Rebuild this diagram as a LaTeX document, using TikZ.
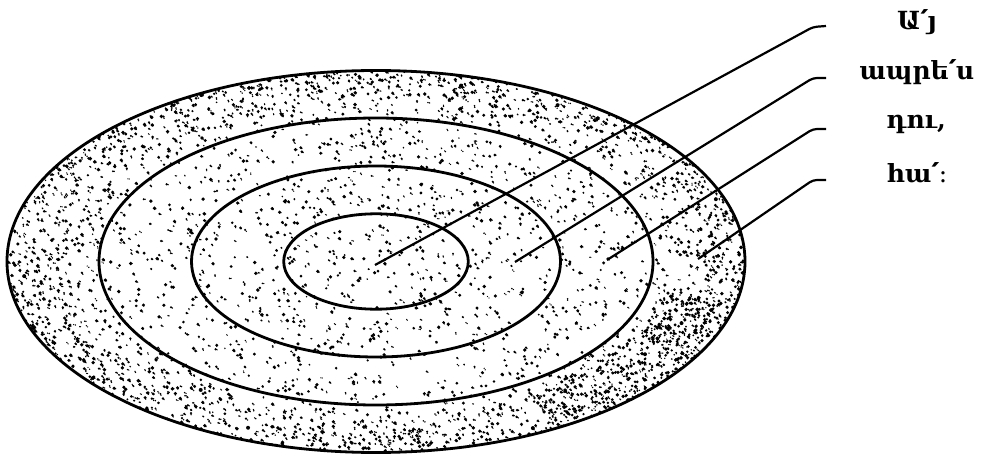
\documentclass[tikz,border=0pt]{standalone}
\usepackage{fontspec}
\newfontfamily\armfont{DejaVu Serif}
\begin{document}
\begin{tikzpicture}[x=1pt,y=-1pt,
  ring/.style={line width=2.8pt},
  lead/.style={line width=2.2pt, rounded corners=4pt},
  lab/.style={font=\armfont\bfseries\fontsize{25}{28}\selectfont, inner sep=0pt, anchor=center}]
\useasboundingbox (0,0) rectangle (990,457);
\fill[white] (0,0) rectangle (990,457);
\coordinate (c) at (376,261.5);
% speckle texture
\pgfmathsetseed{4711}
\begin{scope}
\clip (c) ellipse [x radius=369pt, y radius=191pt];
\foreach \i in {1,...,2200}{
  \pgfmathsetmacro\rr{sqrt(rnd)}
  \pgfmathsetmacro\tt{360*rnd}
  \pgfmathsetmacro\ss{0.6+1.3*rnd}
  \pgfmathsetmacro\px{376+369*\rr*cos(\tt)}
  \pgfmathsetmacro\py{261.5+191*\rr*sin(\tt)}
  \fill[black] (\px,\py) circle (\ss pt) +(1.5*rnd,1.5*rnd) circle (0.7pt);
}
\foreach \i in {1,...,1300}{
  \pgfmathsetmacro\rr{0.75+0.25*sqrt(rnd)}
  \pgfmathsetmacro\tt{360*rnd}
  \pgfmathsetmacro\ss{0.6+1.4*rnd}
  \pgfmathsetmacro\px{376+369*\rr*cos(\tt)}
  \pgfmathsetmacro\py{261.5+191*\rr*sin(\tt)}
  \fill[black] (\px,\py) circle (\ss pt) +(1.8*rnd,1.8*rnd) circle (0.8pt);
}
% denser patch lower right of outer ring
\foreach \i in {1,...,350}{
  \pgfmathsetmacro\rr{0.8+0.2*rnd}
  \pgfmathsetmacro\tt{10+50*rnd}
  \pgfmathsetmacro\ss{0.7+1.3*rnd}
  \pgfmathsetmacro\px{376+369*\rr*cos(\tt)}
  \pgfmathsetmacro\py{261.5+191*\rr*sin(\tt)}
  \fill[black] (\px,\py) circle (\ss pt);
}
\end{scope}
% rings
\draw[ring] (c) ellipse [x radius=92.3pt, y radius=47.7pt];
\draw[ring] (c) ellipse [x radius=184.5pt, y radius=95.5pt];
\draw[ring] (c) ellipse [x radius=277pt, y radius=143.5pt];
\draw[ring] (c) ellipse [x radius=369pt, y radius=191pt];
% labels
\node[lab] (l1) at (917,22) {Ա՛յ};
\node[lab] (l2) at (917,72) {ապրե՛ս};
\node[lab] (l3) at (916,124) {դու,};
\node[lab] (l4) at (917,173) {հա՛։};
% leader points
\coordinate (e1) at (375,265);
\coordinate (e2) at (515,262);
\coordinate (e3) at (607,260);
\coordinate (e4) at (698,259);
\coordinate (k1) at (813,27);
\coordinate (k2) at (813,78);
\coordinate (k3) at (813,129);
\coordinate (k4) at (813,180);
\coordinate (h1) at (826,26);
\coordinate (h2) at (826,78);
\coordinate (h3) at (826,129);
\coordinate (h4) at (826,180);
\draw[lead] (e1) -- (k1) -- (h1);
\draw[lead] (e2) -- (k2) -- (h2);
\draw[lead] (e3) -- (k3) -- (h3);
\draw[lead] (e4) -- (k4) -- (h4);
\end{tikzpicture}
\end{document}
